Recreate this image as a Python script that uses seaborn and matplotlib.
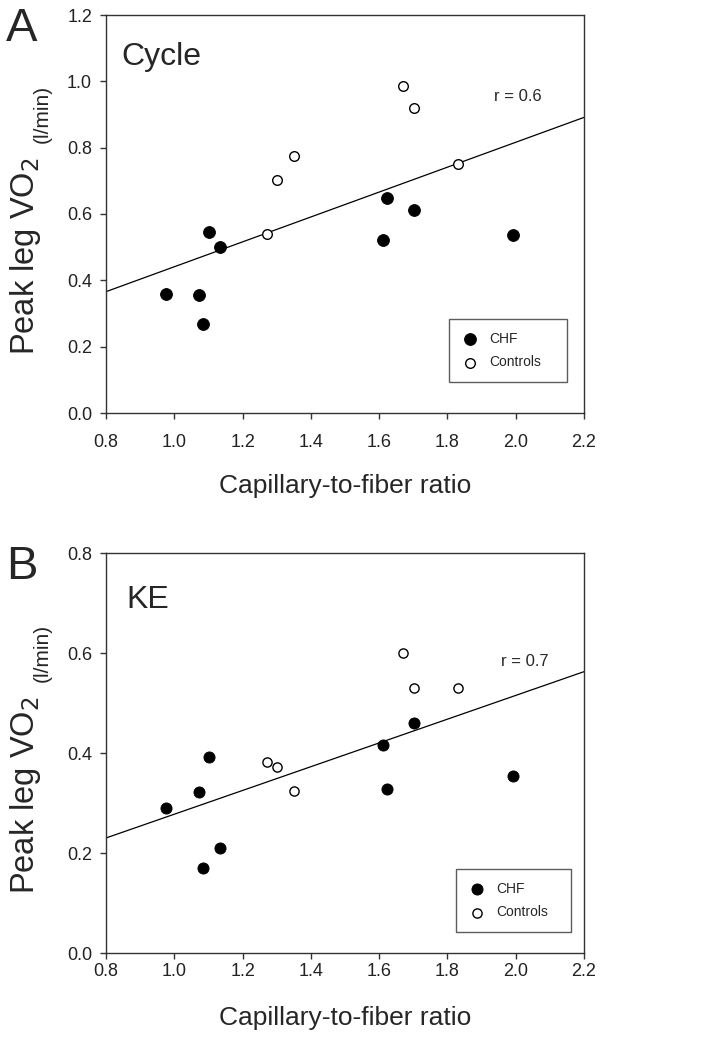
import pandas as pd
import matplotlib.pyplot as plt
import seaborn as sns

sns.set_style("ticks")
plt.rcParams['font.family'] = ['Liberation Sans', 'DejaVu Sans']

# capillary-to-fiber ratio (same subjects in both panels)
chf_ratio = [0.975, 1.073, 1.084, 1.103, 1.134, 1.612, 1.623, 1.701, 1.991]
ctrl_ratio = [1.273, 1.302, 1.352, 1.670, 1.701, 1.831]

# peak leg VO2 (l/min)
cycle_chf = [0.360, 0.357, 0.269, 0.547, 0.499, 0.522, 0.649, 0.612, 0.536]
cycle_ctrl = [0.540, 0.702, 0.776, 0.985, 0.919, 0.752]
ke_chf = [0.291, 0.323, 0.170, 0.393, 0.210, 0.417, 0.329, 0.461, 0.355]
ke_ctrl = [0.382, 0.373, 0.324, 0.600, 0.531, 0.531]

x_ticks = [0.8, 1.0, 1.2, 1.4, 1.6, 1.8, 2.0, 2.2]

df = pd.DataFrame({
    'ratio': chf_ratio + ctrl_ratio,
    'cycle': cycle_chf + cycle_ctrl,
    'ke': ke_chf + ke_ctrl,
    'group': ['CHF'] * len(chf_ratio) + ['Controls'] * len(ctrl_ratio),
})

fig = plt.figure(figsize=(7.05, 10.5), dpi=100)
W, H = 705, 1050

# per-panel settings
panels = [
    dict(col='cycle', ymax=1.2, ystep=0.2, name='Cycle', letter='A', r='r = 0.6',
         rpos=(1.935, 0.953), namepos=(0.033, 0.894), box=[106, 15, 584, 413],
         leg=(0.718, 0.078, 0.246, 0.143), ms=(72, 48), xpad=11, lpad=17),
    dict(col='ke', ymax=0.8, ystep=0.2, name='KE', letter='B', r='r = 0.7',
         rpos=(1.957, 0.583), namepos=(0.043, 0.8825), box=[106, 553, 584, 953],
         leg=(0.732, 0.0525, 0.241, 0.173), ms=(64, 44), xpad=3, lpad=19),
]

edge = '#333333'
for p in panels:
    l, t, r, b = p['box']
    ax = fig.add_axes([l / W, 1 - b / H, (r - l) / W, (b - t) / H])
    ax.set_xlim(0.8, 2.2)
    ax.set_ylim(0, p['ymax'])

    sub = df[df.group == 'CHF']
    sns.scatterplot(x='ratio', y=p['col'], data=sub, ax=ax, color='black',
                    edgecolor='black', s=p['ms'][0], label='CHF', zorder=3)
    sub = df[df.group == 'Controls']
    sns.scatterplot(x='ratio', y=p['col'], data=sub, ax=ax, color='white',
                    edgecolor='black', linewidth=1, s=p['ms'][1], label='Controls', zorder=3)
    # regression over all subjects
    sns.regplot(x='ratio', y=p['col'], data=df, ax=ax, scatter=False, ci=None,
                truncate=False, color='black', line_kws={'lw': 0.9})

    ax.set_xlim(0.8, 2.2)
    ax.set_ylim(0, p['ymax'])
    ax.set_xticks(x_ticks)
    ax.set_xticklabels([f'{v:.1f}' for v in x_ticks])
    yt = [round(i * p['ystep'], 1) for i in range(int(round(p['ymax'] / p['ystep'])) + 1)]
    ax.set_yticks(yt)
    ax.set_yticklabels([f'{v:.1f}' for v in yt])
    ax.tick_params(direction='out', length=4, width=1, color=edge, labelsize=13,
                   labelcolor='#222222')
    ax.tick_params(axis='x', pad=p['xpad'])
    ax.tick_params(axis='y', pad=6)
    for s in ax.spines.values():
        s.set_visible(True)
        s.set_color(edge)
        s.set_linewidth(1)
    ax.set_xlabel('Capillary-to-fiber ratio', fontsize=19, labelpad=p['lpad'])
    ax.set_ylabel('')

    ax.text(p['namepos'][0], p['namepos'][1], p['name'], transform=ax.transAxes,
            fontsize=23, ha='left', va='center')
    ax.text(p['rpos'][0], p['rpos'][1], p['r'], fontsize=12, ha='left', va='center')

    leg = ax.legend(loc='lower left', bbox_to_anchor=p['leg'], mode='expand',
                    fontsize=10, frameon=True, fancybox=False, borderpad=0.9,
                    handletextpad=0.8, handlelength=1.2, labelspacing=0.7,
                    borderaxespad=0)
    leg.get_frame().set_edgecolor(edge)
    leg.get_frame().set_linewidth(1)

    yc = (t + b) / 2
    fig.text(26 / W, 1 - (yc + 42) / H, 'Peak leg VO$_2$', rotation=90,
             fontsize=23.5, ha='center', va='center')
    fig.text(42 / W, 1 - (yc - 100) / H, '(l/min)', rotation=90,
             fontsize=15, ha='center', va='center')
    fig.text(6 / W, 1 - (t - 8) / H, p['letter'], fontsize=34, ha='left', va='top')

plt.savefig('out.png', dpi=100)
